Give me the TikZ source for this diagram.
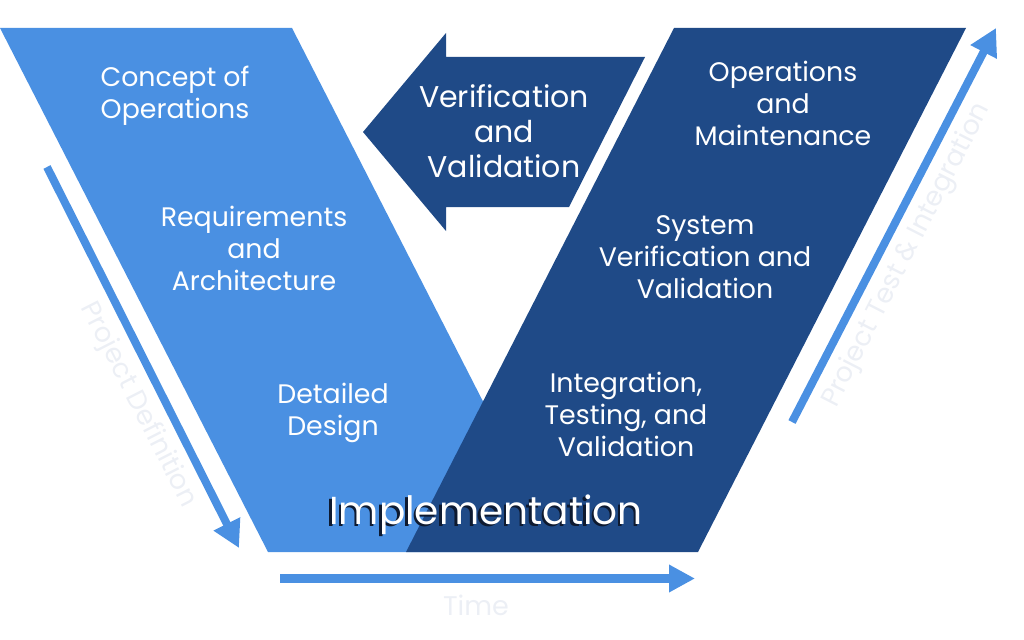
\documentclass[tikz,border=0pt]{standalone}
\usepackage{fontspec}
\setmainfont{Poppins}
\usetikzlibrary{arrows.meta}
\definecolor{lightblue}{HTML}{4A90E2}
\definecolor{darkblue}{HTML}{1F4A87}
\definecolor{faint}{HTML}{ECEFF5}
\definecolor{shadowc}{HTML}{0E1A30}
\begin{document}
\begin{tikzpicture}[x=1pt,y=-1pt,
  phase/.style={text=white,align=center,inner sep=0pt,font=\fontsize{26.8}{32}\selectfont},
  vvtext/.style={text=white,align=center,inner sep=0pt,font=\fontsize{30}{35}\selectfont},
  axislabel/.style={text=faint,inner sep=0pt,font=\fontsize{27}{30}\selectfont},
  axisarrow/.style={draw=lightblue,line width=8pt,-{Triangle[length=27pt,width=28pt]}},
  impl/.style={inner sep=0pt,font=\fontsize{39}{42}\selectfont}]
\useasboundingbox (0,0) rectangle (1024,639);
% V shape
\fill[lightblue] (0,28) -- (292,28) -- (560,552) -- (268,552) -- cycle;
\fill[darkblue] (674,28) -- (966,28) -- (698,552) -- (406,552) -- cycle;
% big left arrow
\fill[darkblue] (363,132) -- (446,33) -- (446,57) -- (645,57) -- (569,207) -- (446,207) -- (446,231) -- cycle;
% axis arrows
\coordinate (pdS) at (47,167);
\coordinate (pdE) at (239,548);
\coordinate (ptS) at (792,422);
\coordinate (ptE) at (996,28);
\coordinate (tS) at (280,578.5);
\coordinate (tE) at (695,578.5);
\draw[axisarrow] (pdS) -- (pdE);
\draw[axisarrow] (ptS) -- (ptE);
\draw[axisarrow,line width=9pt,-{Triangle[length=26pt,width=26pt]}] (tS) -- (tE);
% texts
\node[phase] (conops) at (175,96) {Concept of\\Operations};
\node[phase] (req) at (254,248) {Requirements\\and\\Architecture};
\node[phase] (dd) at (333,413) {Detailed\\Design};
\node[vvtext] (vv) at (504,131.5) {Verification\\and\\Validation};
\node[phase] (om) at (783,103) {Operations\\and\\Maintenance};
\node[phase] (svv) at (705,257) {System\\Verification and\\Validation};
\node[phase] (itv) at (626,414) {Integration,\\Testing, and\\Validation};
\node[impl,text=shadowc] (implsh) at (483.5,517) {Implementation};
\node[impl,text=white] (impl) at (486,514.5) {Implementation};
\node[axislabel] (time) at (476,605) {Time};
\node[axislabel,rotate=-62.9] (pdef) at (138,405) {Project Definition};
\node[axislabel,rotate=62.9] (ptest) at (907,255) {Project Test \& Integration};
\end{tikzpicture}
\end{document}
